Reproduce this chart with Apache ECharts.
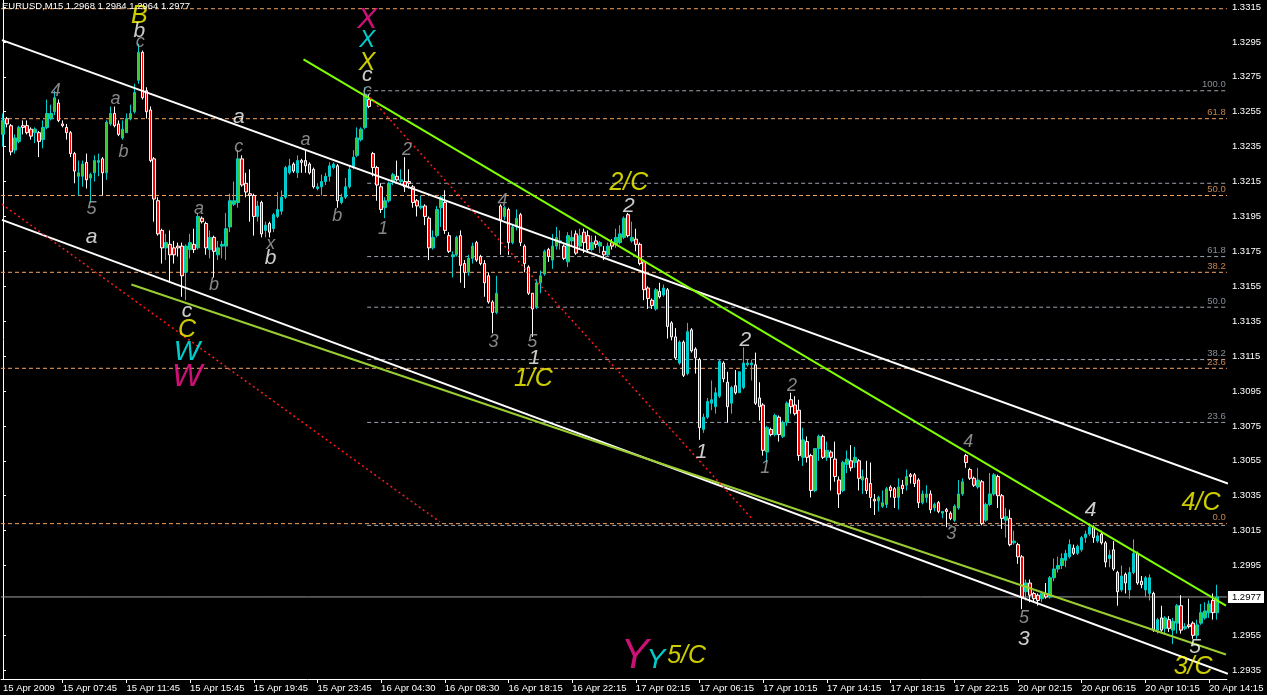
<!DOCTYPE html>
<html><head><meta charset="utf-8">
<script src="https://cdn.jsdelivr.net/npm/echarts@6/dist/echarts.min.js"></script>
<style>html,body{margin:0;padding:0;background:#000;}#c{width:1267px;height:695px;}</style>
</head><body><div id="c"></div>
<script>
const symbolName = 'EURUSD,M15';
const tickLabels = ['15 Apr 2009','15 Apr 07:45','15 Apr 11:45','15 Apr 15:45','15 Apr 19:45','15 Apr 23:45','16 Apr 04:30','16 Apr 08:30','16 Apr 18:15','16 Apr 22:15','17 Apr 02:15','17 Apr 06:15','17 Apr 10:15','17 Apr 14:15','17 Apr 18:15','17 Apr 22:15','20 Apr 02:15','20 Apr 06:15','20 Apr 10:15','20 Apr 14:15'];
const priceTicks = [1.3315,1.3295,1.3275,1.3255,1.3235,1.3215,1.3195,1.3175,1.3155,1.3135,1.3115,1.3095,1.3075,1.3055,1.3035,1.3015,1.2995,1.2955,1.2935];

// [open, close, low, high]
const ohlc1 = [
[1.3242,1.3250,1.3235,1.3254],[1.3251,1.3248,1.3246,1.3252],[1.3247,1.3232,1.3230,1.3248],[1.3233,1.3240,1.3231,1.3242],[1.3238,1.3246,1.3237,1.3247],
[1.3247,1.3246,1.3242,1.3250],[1.3247,1.3243,1.3242,1.3250],[1.3245,1.3241,1.3239,1.3246],[1.3243,1.3245,1.3237,1.3246],[1.3243,1.3238,1.3229,1.3244],
[1.3239,1.3246,1.3234,1.3250],[1.3246,1.3254,1.3245,1.3262],[1.3251,1.3254,1.3250,1.3259],[1.3255,1.3263,1.3253,1.3267],[1.3260,1.3250,1.3249,1.3262],
[1.3248,1.3247,1.3246,1.3250],[1.3246,1.3243,1.3239,1.3248],[1.3243,1.3231,1.3229,1.3244],[1.3231,1.3221,1.3214,1.3232],[1.3218,1.3220,1.3207,1.3227],
[1.3218,1.3225,1.3212,1.3227],[1.3226,1.3216,1.3211,1.3231],[1.3217,1.3219,1.3203,1.3220],[1.3220,1.3227,1.3215,1.3230],[1.3226,1.3227,1.3218,1.3231],
[1.3228,1.3220,1.3207,1.3229],[1.3220,1.3249,1.3216,1.3250],[1.3248,1.3254,1.3247,1.3258],[1.3254,1.3247,1.3246,1.3258],[1.3248,1.3242,1.3241,1.3250],
[1.3240,1.3245,1.3239,1.3250],[1.3243,1.3251,1.3243,1.3254],[1.3251,1.3254,1.3250,1.3259],[1.3255,1.3266,1.3254,1.3271],[1.3273,1.3289,1.3271,1.3294],
[1.3289,1.3263,1.3262,1.3290],[1.3267,1.3255,1.3251,1.3269],[1.3256,1.3227,1.3226,1.3258],[1.3228,1.3205,1.3192,1.3229],[1.3204,1.3185,1.3184,1.3206],
[1.3187,1.3177,1.3168,1.3188],[1.3177,1.3180,1.3170,1.3185],[1.3179,1.3173,1.3157,1.3187],[1.3177,1.3173,1.3168,1.3181],[1.3178,1.3177,1.3172,1.3180],
[1.3178,1.3161,1.3149,1.3180],[1.3163,1.3178,1.3147,1.3179],[1.3176,1.3180,1.3171,1.3185],[1.3179,1.3176,1.3174,1.3188],[1.3177,1.3195,1.3176,1.3197]
];
const ohlc2 = [
[1.3194,1.3192,1.3191,1.3195],[1.3191,1.3177,1.3173,1.3192],[1.3176,1.3183,1.3171,1.3187],[1.3183,1.3175,1.3160,1.3184],[1.3173,1.3177,1.3170,1.3181],
[1.3178,1.3179,1.3171,1.3181],[1.3178,1.3188,1.3170,1.3197],[1.3189,1.3204,1.3186,1.3208],[1.3202,1.3204,1.3201,1.3215],[1.3203,1.3228,1.3200,1.3233],
[1.3228,1.3213,1.3212,1.3230],[1.3214,1.3209,1.3206,1.3220],[1.3208,1.3207,1.3192,1.3222],[1.3207,1.3195,1.3184,1.3208],[1.3195,1.3201,1.3192,1.3204],
[1.3203,1.3185,1.3183,1.3204],[1.3187,1.3190,1.3183,1.3192],[1.3191,1.3186,1.3183,1.3192],[1.3188,1.3196,1.3186,1.3197],[1.3195,1.3199,1.3194,1.3209],
[1.3198,1.3206,1.3196,1.3210],[1.3206,1.3223,1.3205,1.3224],[1.3220,1.3224,1.3219,1.3228],[1.3225,1.3221,1.3220,1.3226],[1.3220,1.3227,1.3217,1.3230],
[1.3227,1.3226,1.3220,1.3228],[1.3227,1.3224,1.3220,1.3233],[1.3225,1.3220,1.3219,1.3226],[1.3222,1.3212,1.3211,1.3223],[1.3211,1.3212,1.3210,1.3214],
[1.3212,1.3215,1.3207,1.3219],[1.3215,1.3218,1.3213,1.3220],[1.3218,1.3224,1.3215,1.3226],[1.3223,1.3225,1.3222,1.3226],[1.3224,1.3204,1.3200,1.3225],
[1.3203,1.3206,1.3202,1.3208],[1.3206,1.3212,1.3205,1.3217],[1.3212,1.3222,1.3211,1.3224],[1.3223,1.3229,1.3222,1.3233],[1.3230,1.3240,1.3229,1.3246],
[1.3239,1.3245,1.3238,1.3246],[1.3246,1.3265,1.3245,1.3269],[1.3262,1.3258,1.3257,1.3265],[1.3231,1.3223,1.3218,1.3232],[1.3223,1.3213,1.3204,1.3224],
[1.3212,1.3199,1.3197,1.3214],[1.3200,1.3204,1.3194,1.3206],[1.3204,1.3214,1.3203,1.3215],[1.3215,1.3219,1.3213,1.3220],[1.3218,1.3216,1.3215,1.3227]
];
const ohlc3 = [
[1.3215,1.3216,1.3213,1.3222],[1.3215,1.3212,1.3209,1.3229],[1.3215,1.3214,1.3211,1.3222],[1.3212,1.3203,1.3200,1.3213],[1.3204,1.3201,1.3195,1.3205],
[1.3200,1.3201,1.3199,1.3207],[1.3201,1.3195,1.3190,1.3202],[1.3194,1.3177,1.3170,1.3195],[1.3177,1.3183,1.3176,1.3187],[1.3184,1.3199,1.3183,1.3201],
[1.3200,1.3206,1.3189,1.3207],[1.3203,1.3187,1.3185,1.3210],[1.3184,1.3175,1.3174,1.3186],[1.3172,1.3173,1.3160,1.3175],[1.3173,1.3183,1.3172,1.3184],
[1.3184,1.3167,1.3157,1.3187],[1.3168,1.3163,1.3154,1.3170],[1.3163,1.3171,1.3161,1.3173],[1.3171,1.3178,1.3168,1.3180],[1.3180,1.3170,1.3169,1.3181],
[1.3172,1.3168,1.3167,1.3173],[1.3168,1.3157,1.3149,1.3170],[1.3161,1.3146,1.3145,1.3163],[1.3146,1.3140,1.3128,1.3147],[1.3140,1.3151,1.3139,1.3161],
[1.3201,1.3193,1.3173,1.3202],[1.3195,1.3200,1.3193,1.3201],[1.3199,1.3180,1.3173,1.3200],[1.3180,1.3189,1.3179,1.3190],[1.3189,1.3194,1.3187,1.3199],
[1.3196,1.3180,1.3178,1.3197],[1.3178,1.3168,1.3163,1.3179],[1.3166,1.3151,1.3150,1.3167],[1.3151,1.3142,1.3126,1.3151],[1.3143,1.3157,1.3142,1.3159],
[1.3157,1.3161,1.3151,1.3164],[1.3162,1.3175,1.3161,1.3176],[1.3176,1.3172,1.3169,1.3177],[1.3170,1.3178,1.3165,1.3185],[1.3178,1.3183,1.3176,1.3189],
[1.3180,1.3181,1.3176,1.3187],[1.3178,1.3171,1.3170,1.3179],[1.3169,1.3184,1.3166,1.3186],[1.3181,1.3183,1.3178,1.3187],[1.3185,1.3174,1.3173,1.3187],
[1.3178,1.3184,1.3176,1.3188],[1.3186,1.3180,1.3174,1.3188],[1.3184,1.3176,1.3174,1.3187],[1.3176,1.3180,1.3175,1.3184],[1.3181,1.3179,1.3177,1.3184]
];
const ohlc4 = [
[1.3178,1.3180,1.3174,1.3181],[1.3175,1.3173,1.3170,1.3178],[1.3173,1.3178,1.3172,1.3180],[1.3180,1.3178,1.3176,1.3182],[1.3179,1.3183,1.3177,1.3188],
[1.3180,1.3185,1.3179,1.3190],[1.3183,1.3194,1.3182,1.3195],[1.3196,1.3184,1.3183,1.3197],[1.3181,1.3183,1.3180,1.3192],[1.3182,1.3179,1.3175,1.3188],
[1.3179,1.3168,1.3167,1.3180],[1.3169,1.3153,1.3147,1.3169],[1.3154,1.3148,1.3142,1.3155],[1.3147,1.3144,1.3142,1.3148],[1.3142,1.3153,1.3141,1.3154],
[1.3152,1.3149,1.3148,1.3157],[1.3150,1.3154,1.3149,1.3156],[1.3153,1.3132,1.3125,1.3154],[1.3134,1.3126,1.3124,1.3135],[1.3126,1.3114,1.3113,1.3131],
[1.3111,1.3123,1.3110,1.3124],[1.3123,1.3104,1.3103,1.3124],[1.3105,1.3129,1.3104,1.3134],[1.3130,1.3118,1.3117,1.3131],[1.3119,1.3114,1.3105,1.3120],
[1.3113,1.3074,1.3067,1.3114],[1.3073,1.3080,1.3071,1.3082],[1.3080,1.3089,1.3079,1.3091],[1.3088,1.3090,1.3084,1.3101],[1.3086,1.3094,1.3082,1.3097],
[1.3092,1.3112,1.3091,1.3113],[1.3111,1.3102,1.3100,1.3112],[1.3100,1.3086,1.3077,1.3106],[1.3088,1.3097,1.3082,1.3098],[1.3098,1.3094,1.3093,1.3107],
[1.3094,1.3106,1.3094,1.3106],[1.3097,1.3111,1.3096,1.3120],[1.3110,1.3111,1.3109,1.3113],[1.3110,1.3111,1.3101,1.3113],[1.3110,1.3088,1.3087,1.3117],
[1.3091,1.3086,1.3078,1.3100],[1.3087,1.3061,1.3058,1.3088],[1.3060,1.3074,1.3054,1.3075],[1.3073,1.3070,1.3069,1.3074],[1.3070,1.3081,1.3069,1.3082],
[1.3080,1.3070,1.3066,1.3081],[1.3069,1.3077,1.3068,1.3078],[1.3077,1.3088,1.3075,1.3089],[1.3090,1.3086,1.3082,1.3094],[1.3087,1.3082,1.3081,1.3092]
];
const ohlc5 = [
[1.3084,1.3058,1.3055,1.3090],[1.3057,1.3067,1.3052,1.3074],[1.3066,1.3057,1.3054,1.3069],[1.3058,1.3038,1.3034,1.3059],[1.3038,1.3062,1.3037,1.3062],
[1.3062,1.3069,1.3055,1.3070],[1.3069,1.3057,1.3056,1.3070],[1.3057,1.3061,1.3055,1.3066],[1.3060,1.3057,1.3038,1.3061],[1.3056,1.3046,1.3043,1.3066],
[1.3044,1.3036,1.3028,1.3046],[1.3038,1.3054,1.3037,1.3055],[1.3053,1.3056,1.3048,1.3061],[1.3055,1.3051,1.3049,1.3064],[1.3054,1.3057,1.3051,1.3063],
[1.3055,1.3045,1.3038,1.3056],[1.3044,1.3046,1.3036,1.3050],[1.3045,1.3038,1.3036,1.3055],[1.3042,1.3034,1.3028,1.3054],[1.3033,1.3032,1.3024,1.3036],
[1.3032,1.3034,1.3026,1.3035],[1.3029,1.3031,1.3028,1.3038],[1.3030,1.3039,1.3028,1.3040],[1.3040,1.3038,1.3034,1.3041],[1.3039,1.3034,1.3028,1.3040],
[1.3034,1.3040,1.3027,1.3045],[1.3041,1.3039,1.3036,1.3044],[1.3041,1.3046,1.3038,1.3050],[1.3047,1.3046,1.3042,1.3048],[1.3047,1.3042,1.3040,1.3048],
[1.3044,1.3031,1.3028,1.3045],[1.3031,1.3036,1.3030,1.3038],[1.3034,1.3036,1.3031,1.3041],[1.3036,1.3027,1.3025,1.3038],[1.3028,1.3030,1.3026,1.3031],
[1.3031,1.3026,1.3025,1.3032],[1.3025,1.3026,1.3022,1.3026],[1.3027,1.3026,1.3017,1.3028],[1.3025,1.3022,1.3021,1.3026],[1.3021,1.3029,1.3020,1.3030],
[1.3028,1.3036,1.3027,1.3044],[1.3036,1.3043,1.3035,1.3045],[1.3058,1.3054,1.3051,1.3059],[1.3050,1.3045,1.3044,1.3051],[1.3045,1.3041,1.3040,1.3046],
[1.3040,1.3044,1.3039,1.3051],[1.3043,1.3019,1.3018,1.3044],[1.3021,1.3030,1.3020,1.3031],[1.3030,1.3036,1.3029,1.3048],[1.3036,1.3047,1.3035,1.3048]
];
const ohlc6 = [
[1.3046,1.3035,1.3028,1.3047],[1.3035,1.3022,1.3016,1.3036],[1.3021,1.3023,1.3011,1.3028],[1.3022,1.3007,1.3006,1.3027],[1.3008,1.3009,1.3007,1.3015],
[1.3007,1.3000,1.2996,1.3008],[1.3000,1.2977,1.2970,1.3001],[1.2980,1.2985,1.2975,1.2987],[1.2985,1.2978,1.2974,1.2987],[1.2979,1.2976,1.2974,1.2980],
[1.2978,1.2975,1.2972,1.2979],[1.2976,1.2979,1.2974,1.2980],[1.2979,1.2977,1.2976,1.2985],[1.2977,1.2988,1.2976,1.2989],[1.2988,1.2993,1.2986,1.2999],
[1.2993,1.2995,1.2991,1.3000],[1.2995,1.2999,1.2993,1.3002],[1.2998,1.3002,1.2994,1.3004],[1.3000,1.3007,1.2999,1.3010],[1.3005,1.3002,1.3001,1.3007],
[1.3002,1.3006,1.3001,1.3007],[1.3004,1.3011,1.3003,1.3012],[1.3011,1.3013,1.3008,1.3015],[1.3013,1.3017,1.3012,1.3019],[1.3017,1.3011,1.3008,1.3018],
[1.3009,1.3012,1.3008,1.3014],[1.3013,1.3008,1.3007,1.3015],[1.3008,1.2997,1.2994,1.3009],[1.2999,1.3001,1.2994,1.3004],[1.3004,1.2993,1.2992,1.3009],
[1.2991,1.2980,1.2972,1.2992],[1.2981,1.2989,1.2980,1.2995],[1.2990,1.2985,1.2979,1.2991],[1.2981,1.2991,1.2976,1.2994],[1.2991,1.3002,1.2990,1.3010],
[1.3002,1.2985,1.2984,1.3003],[1.2986,1.2984,1.2982,1.2989],[1.2981,1.2988,1.2977,1.2989],[1.2979,1.2988,1.2975,1.2990],[1.2979,1.2958,1.2957,1.2980],
[1.2958,1.2964,1.2956,1.2965],[1.2965,1.2958,1.2957,1.2972],[1.2959,1.2965,1.2956,1.2966],[1.2964,1.2959,1.2957,1.2966],[1.2958,1.2963,1.2950,1.2965],
[1.2962,1.2972,1.2956,1.2973],[1.2972,1.2958,1.2956,1.2978],[1.2959,1.2960,1.2958,1.2962],[1.2961,1.2960,1.2959,1.2976],[1.2962,1.2955,1.2953,1.2963],
[1.2955,1.2961,1.2953,1.2964],[1.2962,1.2968,1.2961,1.2973],[1.2965,1.2969,1.2964,1.2974],[1.2968,1.2973,1.2965,1.2975],[1.2975,1.2968,1.2964,1.2979],
[1.2968,1.2977,1.2964,1.2984]
];

// Fibonacci levels (price) and their captions
const fibOrangeLevels = [1.3314,1.3251,1.3207,1.3163,1.3108,1.3019];
const fibOrangeText   = ['','61.8','50.0','38.2','23.6','0.0'];
const fibGreyLevels   = [1.3267,1.3214,1.3172,1.3143,1.3113,1.3077,1.3018];
const fibGreyText     = ['100.0','','61.8','50.0','38.2','23.6',''];
const fibGreyStartBar = 91.5;

// trend lines: [[bar, price],[bar, price]]
const whiteLines = [[[-0.25,1.3296],[307.75,1.3042]], [[-0.25,1.3193],[307.75,1.2933]]];
const limeLine   = [[75.5,1.3285],[307.25,1.2972]];
const oliveLine  = [[32.25,1.3156],[307.25,1.2944]];
const redLines   = [[[-0.25,1.3202],[109.75,1.3020]], [[92.25,1.3263],[188.5,1.3021]]];

// wave labels: [bar, price, text, style]
const waveLabels = [
 [34.25,1.3310,'B','yellow'],[34.25,1.3301,'b','white'],[34.5,1.3295,'c','grey'],
 [13.25,1.3267,'4','grey'],[28.25,1.3262,'a','grey'],[30.25,1.3232,'b','grey'],
 [22.25,1.3199,'5','grey'],[22.25,1.3183,'a','white'],[49.25,1.3199,'a','grey'],
 [53,1.3156,'b','grey'],[46.25,1.3141,'c','white'],[46.25,1.3130,'C','yellow'],
 [46.25,1.3117,'W','cyanW'],[46.25,1.3103,'W','pinkW'],
 [59.25,1.3235,'c','grey'],[59.25,1.3252,'a','white'],[67.25,1.3179,'x','grey'],[67.25,1.3171,'b','white'],
 [76,1.3239,'a','grey'],[84,1.3195,'b','grey'],
 [91.5,1.3308,'X','pinkX'],[91.5,1.3296,'X','cyanX'],[91.5,1.3283,'X','yellow'],[91.5,1.3276,'c','white'],[91.5,1.3267,'c','grey'],
 [101.5,1.3233,'2','grey'],[95.5,1.3188,'1','grey'],[125.5,1.3204,'4','grey'],[123.25,1.3123,'3','grey'],
 [133,1.3123,'5','grey'],[133.5,1.3114,'1','white'],[133.25,1.3102,'1/C','yellow'],
 [157.25,1.3214,'2/C','yellow'],[157.25,1.3201,'2','white'],[186.5,1.3124,'2','white'],[175.5,1.3060,'1','white'],
 [198.25,1.3098,'2','grey'],[191.5,1.3051,'1','grey'],[242.5,1.3066,'4','grey'],[238.25,1.3013,'3','grey'],
 [256.5,1.2965,'5','grey'],[256.5,1.2953,'3','white'],[273.25,1.3027,'4','white'],[301,1.3031,'4/C','yellow'],
 [299.5,1.2948,'5','white'],[299,1.2937,'3/C','yellow'],
 [158.75,1.2943,'Y','pinkY'],[164,1.2941,'Y','cyanY'],[171.75,1.2943,'5/C','yellow']
];

const labelStyles = {
  grey:{color:'#A9A9AE',size:18}, white:{color:'#FFFFFF',size:21}, yellow:{color:'#FFFF00',size:25},
  cyanW:{color:'#00FFFF',size:28}, pinkW:{color:'#FF1493',size:32},
  pinkX:{color:'#FF1493',size:30}, cyanX:{color:'#00FFFF',size:24},
  pinkY:{color:'#FF1493',size:42}, cyanY:{color:'#00FFFF',size:28}
};

const candles = [].concat(ohlc1, ohlc2, ohlc3, ohlc4, ohlc5, ohlc6);
const barSlots = 308;
const categories = Array.from({length: barSlots}, (_, i) => String(i));
const last = candles[candles.length - 1];
const lastClose = last[1];
const FONT = "'Liberation Sans', Arial, sans-serif";

function seg(points, color, width, type, z) {
  return {type:'line', xAxisIndex:1, yAxisIndex:0, data:points, showSymbol:false, symbol:'none',
    silent:true, animation:false, z:z, clip:true,
    lineStyle:{color:color, width:width, type:type}};
}

const series = [];
fibGreyLevels.forEach(p => series.push(seg([[fibGreyStartBar,p],[307.5,p]], '#9EA3AD', 1, [4,3], 1)));
fibOrangeLevels.forEach(p => series.push(seg([[-0.5,p],[307.5,p]], '#F4A460', 1, [4,3], 1)));
series.push(seg([[-0.5,lastClose],[307.5,lastClose]], '#A0A0A0', 1, 'solid', 1));

series.push({
  type:'candlestick', xAxisIndex:0, yAxisIndex:0, data:candles, barWidth:3, z:2,
  itemStyle:{color:'#32CD32', color0:'#FF0000', borderColor:'#00CED1', borderColor0:'#FFFFFF', borderColorDoji:'#00CED1', borderWidth:1}
});

whiteLines.forEach(l => series.push(seg(l, '#FFFFFF', 2, 'solid', 3)));
series.push(seg(limeLine, '#7FFF00', 2, 'solid', 3));
series.push(seg(oliveLine, '#9ACD32', 2, 'solid', 3));
redLines.forEach(l => series.push(seg(l, '#FF1A1A', 1.5, [2,3], 3)));

// fib captions
const fibCaptions = [];
fibOrangeLevels.forEach((p,i) => { if (fibOrangeText[i]) fibCaptions.push({value:[307.2,p], label:{formatter:fibOrangeText[i], color:'#F4A460'}}); });
fibGreyLevels.forEach((p,i) => { if (fibGreyText[i]) fibCaptions.push({value:[307.2,p], label:{formatter:fibGreyText[i], color:'#A8B0BE'}}); });
series.push({type:'scatter', xAxisIndex:1, yAxisIndex:0, symbolSize:0, silent:true, z:4, animation:false,
  data:fibCaptions,
  label:{show:true, position:'inside', align:'right', verticalAlign:'bottom', offset:[0,-1], fontSize:9.5, fontFamily:FONT}});

series.push({type:'scatter', xAxisIndex:1, yAxisIndex:0, symbolSize:0, silent:true, z:5, animation:false,
  data: waveLabels.map(w => ({value:[w[0], w[1]], label:{formatter:w[2], color:labelStyles[w[3]].color, fontSize:labelStyles[w[3]].size}})),
  label:{show:true, position:'inside', align:'center', verticalAlign:'middle', fontStyle:'italic', fontFamily:FONT}});

const chart = echarts.init(document.getElementById('c'), null, {renderer:'canvas'});
chart.setOption({
  backgroundColor:'#000000',
  animation:false,
  grid:{left:-1, right:35, top:0, bottom:16, containLabel:false},
  graphic:[{type:'text', left:2, top:1, z:10,
    style:{text: symbolName + ' ' + [last[0], last[3], last[2], last[1]].map(v => v.toFixed(4)).join(' '),
      fill:'#FFFFFF', font:'9.5px ' + FONT}}],
  xAxis:[{
    type:'category', data:categories, boundaryGap:true,
    axisLine:{show:true, lineStyle:{color:'#FFFFFF', width:1}},
    axisTick:{show:true, alignWithLabel:true, length:4, lineStyle:{color:'#FFFFFF'},
      interval:(i) => (i+1) % 16 === 0},
    axisLabel:{show:true, color:'#FFFFFF', fontSize:9.5, fontFamily:FONT, align:'left', margin:4,
      interval:(i) => i === 0 || ((i+1) % 16 === 0 && (i+1)/16 < tickLabels.length),
      formatter:(v, i) => i === 0 ? tickLabels[0] : tickLabels[(i+1)/16]},
    splitLine:{show:false}
  },{
    type:'value', min:-0.5, max:307.5, show:false
  }],
  yAxis:[{
    type:'value', position:'right', min:1.2930, max:1.3319, scale:true,
    axisLine:{show:true, lineStyle:{color:'#FFFFFF', width:1}},
    axisTick:{show:true, inside:false, length:3, lineStyle:{color:'#FFFFFF'}, customValues:priceTicks},
    axisLabel:{show:true, color:'#FFFFFF', fontSize:9.5, fontFamily:FONT, margin:5,
      customValues:priceTicks, formatter:(v) => v.toFixed(4)},
    splitLine:{show:false}
  },{
    type:'value', position:'right', min:1.2930, max:1.3319, scale:true,
    axisLine:{show:false}, axisTick:{show:false}, splitLine:{show:false},
    axisLabel:{show:true, color:'#000000', backgroundColor:'#FFFFFF', fontSize:9.5, fontFamily:FONT,
      margin:1, padding:[1,3,1,4], customValues:[lastClose], formatter:(v) => v.toFixed(4)}
  }],
  series:series
});
</script>
</body></html>
